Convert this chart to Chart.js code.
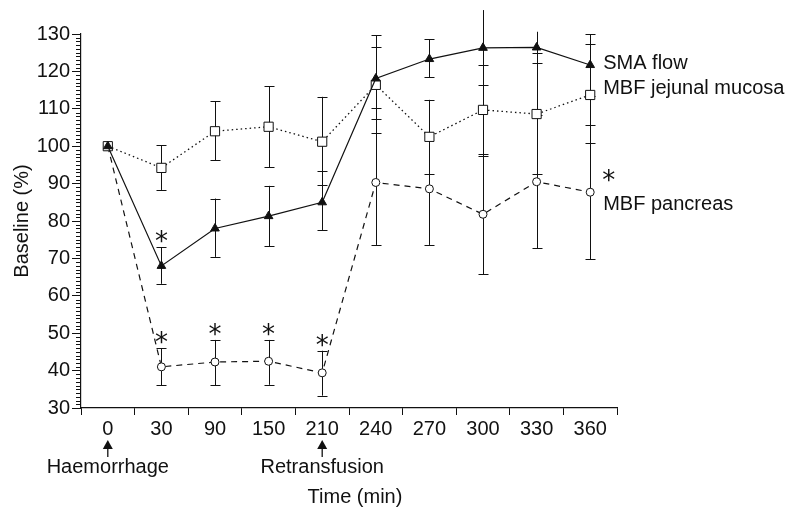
<!DOCTYPE html>
<html>
<head>
<meta charset="utf-8">
<script src="https://cdn.jsdelivr.net/npm/chart.js@4/dist/chart.umd.min.js"></script>
<style>
  body { margin: 0; background: #fff; }
  #wrap { width: 795px; height: 510px; }
</style>
</head>
<body>
<div id="wrap"><canvas id="chart"></canvas></div>
<script>
const times = ['0', '30', '90', '150', '210', '240', '270', '300', '330', '360'];

const smaFlow = [100, 68, 78, 81.3, 85, 118.1, 123.3, 126.3, 126.4, 121.7];
const smaLow = [null, 63.2, 70.4, 73.3, 77.6, 107.4, 118.4, 116.4, 122.2, 113.5];
const smaHigh = [null, 73, 86, 89.4, 93.4, 129.7, 128.6, 136.4, 130.6, 129.9];

const jejunal = [100, 94.2, 104, 105.2, 101.2, 116.4, 102.5, 109.7, 108.6, 113.7];
const jejunalLow = [null, 88.3, 96.2, 94.4, 89.6, 103.5, 92.5, 97.5, 92.6, 100.8];
const jejunalHigh = [null, 100.3, 112, 116, 113.2, 126.6, 112.4, 121.7, 124.9, 127.2];

const pancreas = [100, 41, 42.3, 42.5, 39.4, 90.3, 88.6, 81.8, 90.5, 87.7];
const pancreasLow = [null, 36.1, 36.1, 36.2, 33.3, 73.6, 73.6, 65.7, 72.7, 69.8];
const pancreasHigh = [null, 46, 48.2, 48.2, 45.3, 110.3, 103.6, 98, 108.3, 105.7];

// points marked significant (*)
const smaStars = [1];
const pancreasStars = [1, 2, 3, 4];

const events = [0, 4];
const eventNames = ['Haemorrhage', 'Retransfusion'];

const FONT = "'Liberation Sans', Arial, sans-serif";
const STAR_FONT = "26px 'DejaVu Sans', sans-serif";
const INK = '#111';

const overlay = {
  id: 'overlay',
  beforeDatasetsDraw(chart) {
    const { ctx, scales: { x, y } } = chart;
    ctx.save();
    ctx.strokeStyle = INK;
    ctx.lineWidth = 1;

    // minor y ticks
    for (let v = y.min; v <= y.max; v++) {
      if (v % 10 === 0) continue;
      const py = Math.round(y.getPixelForValue(v)) + 0.5;
      ctx.beginPath();
      ctx.moveTo(y.right - 5, py);
      ctx.lineTo(y.right, py);
      ctx.stroke();
    }

    // error bars
    [[smaLow, smaHigh], [jejunalLow, jejunalHigh], [pancreasLow, pancreasHigh]].forEach(([lo, hi]) => {
      lo.forEach((l, i) => {
        if (l == null) return;
        const px = Math.round(x.getPixelForValue(i)) + 0.5;
        const yl = y.getPixelForValue(l);
        const yh = y.getPixelForValue(hi[i]);
        ctx.beginPath();
        ctx.moveTo(px, yl);
        ctx.lineTo(px, yh);
        ctx.moveTo(px - 5, Math.round(yl) + 0.5);
        ctx.lineTo(px + 5, Math.round(yl) + 0.5);
        if (hi[i] <= y.max) {
          ctx.moveTo(px - 5, Math.round(yh) + 0.5);
          ctx.lineTo(px + 5, Math.round(yh) + 0.5);
        }
        ctx.stroke();
      });
    });
    ctx.restore();
  },
  afterDraw(chart) {
    const { ctx, scales: { x, y }, chartArea } = chart;
    ctx.save();
    ctx.fillStyle = INK;
    ctx.strokeStyle = INK;

    // significance marks
    ctx.font = STAR_FONT;
    ctx.textAlign = 'center';
    ctx.textBaseline = 'middle';
    smaStars.forEach(i => {
      ctx.fillText('*', x.getPixelForValue(i), y.getPixelForValue(smaHigh[i]) - 4);
    });
    pancreasStars.forEach(i => {
      ctx.fillText('*', x.getPixelForValue(i), y.getPixelForValue(pancreasHigh[i]) - 4);
    });

    // series labels
    const last = times.length - 1;
    const lx = x.getPixelForValue(last) + 13;
    ctx.font = '20px ' + FONT;
    ctx.textAlign = 'left';
    ctx.fillText('SMA flow', lx, y.getPixelForValue(smaFlow[last]) - 2);
    ctx.fillText('MBF jejunal mucosa', lx, y.getPixelForValue(jejunal[last]) - 6);
    ctx.fillText('MBF pancreas', lx, y.getPixelForValue(pancreas[last]) + 12);
    ctx.font = STAR_FONT;
    ctx.fillText('*', lx - 1, y.getPixelForValue(pancreas[last]) - 10);

    // event arrows
    ctx.font = '20px ' + FONT;
    ctx.textAlign = 'center';
    events.forEach((idx, k) => {
      const px = x.getPixelForValue(idx);
      const top = chartArea.bottom + 32;
      ctx.beginPath();
      ctx.moveTo(px, top);
      ctx.lineTo(px - 5, top + 9);
      ctx.lineTo(px + 5, top + 9);
      ctx.closePath();
      ctx.fill();
      ctx.lineWidth = 1.3;
      ctx.beginPath();
      ctx.moveTo(px, top + 8);
      ctx.lineTo(px, top + 17);
      ctx.stroke();
      ctx.fillText(eventNames[k], px, top + 27);
    });

    // axis titles
    ctx.fillText('Time (min)', (chartArea.left + chartArea.right) / 2 + 6, 497);
    ctx.translate(22, (chartArea.top + chartArea.bottom) / 2);
    ctx.rotate(-Math.PI / 2);
    ctx.fillText('Baseline (%)', 0, 0);
    ctx.restore();
  }
};

new Chart(document.getElementById('chart'), {
  type: 'line',
  data: {
    labels: times,
    datasets: [
      {
        label: 'SMA flow',
        data: smaFlow,
        borderColor: INK,
        borderWidth: 1.2,
        pointStyle: 'triangle',
        pointRadius: 5,
        pointBackgroundColor: INK,
        pointBorderColor: INK,
        pointBorderWidth: 1
      },
      {
        label: 'MBF jejunal mucosa',
        data: jejunal,
        borderColor: INK,
        borderWidth: 1.3,
        borderDash: [1.5, 3],
        pointStyle: 'rect',
        pointRadius: 6.5,
        pointBackgroundColor: '#fff',
        pointBorderColor: INK,
        pointBorderWidth: 1
      },
      {
        label: 'MBF pancreas',
        data: pancreas,
        borderColor: INK,
        borderWidth: 1.2,
        borderDash: [6, 5],
        pointStyle: 'circle',
        pointRadius: 4,
        pointBackgroundColor: '#fff',
        pointBorderColor: INK,
        pointBorderWidth: 1
      }
    ]
  },
  options: {
    responsive: true,
    maintainAspectRatio: false,
    animation: false,
    layout: { padding: { left: 0, top: 34, right: 178, bottom: 0 } },
    plugins: {
      legend: { display: false },
      tooltip: { enabled: false }
    },
    elements: { line: { tension: 0 } },
    scales: {
      x: {
        offset: true,
        grid: {
          offset: true,
          drawOnChartArea: false,
          tickLength: 7,
          color: INK
        },
        border: { color: INK, width: 1.2 },
        ticks: {
          color: INK,
          padding: 2,
          maxRotation: 0,
          font: { family: FONT, size: 20 }
        },
        afterFit: s => { s.height = 102; }
      },
      y: {
        min: 30,
        max: 130,
        grid: {
          drawOnChartArea: false,
          tickLength: 9,
          color: INK
        },
        border: { color: INK, width: 1.2 },
        ticks: {
          stepSize: 10,
          color: INK,
          padding: 2,
          font: { family: FONT, size: 20 }
        },
        afterFit: s => { s.width = 81; }
      }
    }
  },
  plugins: [overlay]
});
</script>
</body>
</html>
